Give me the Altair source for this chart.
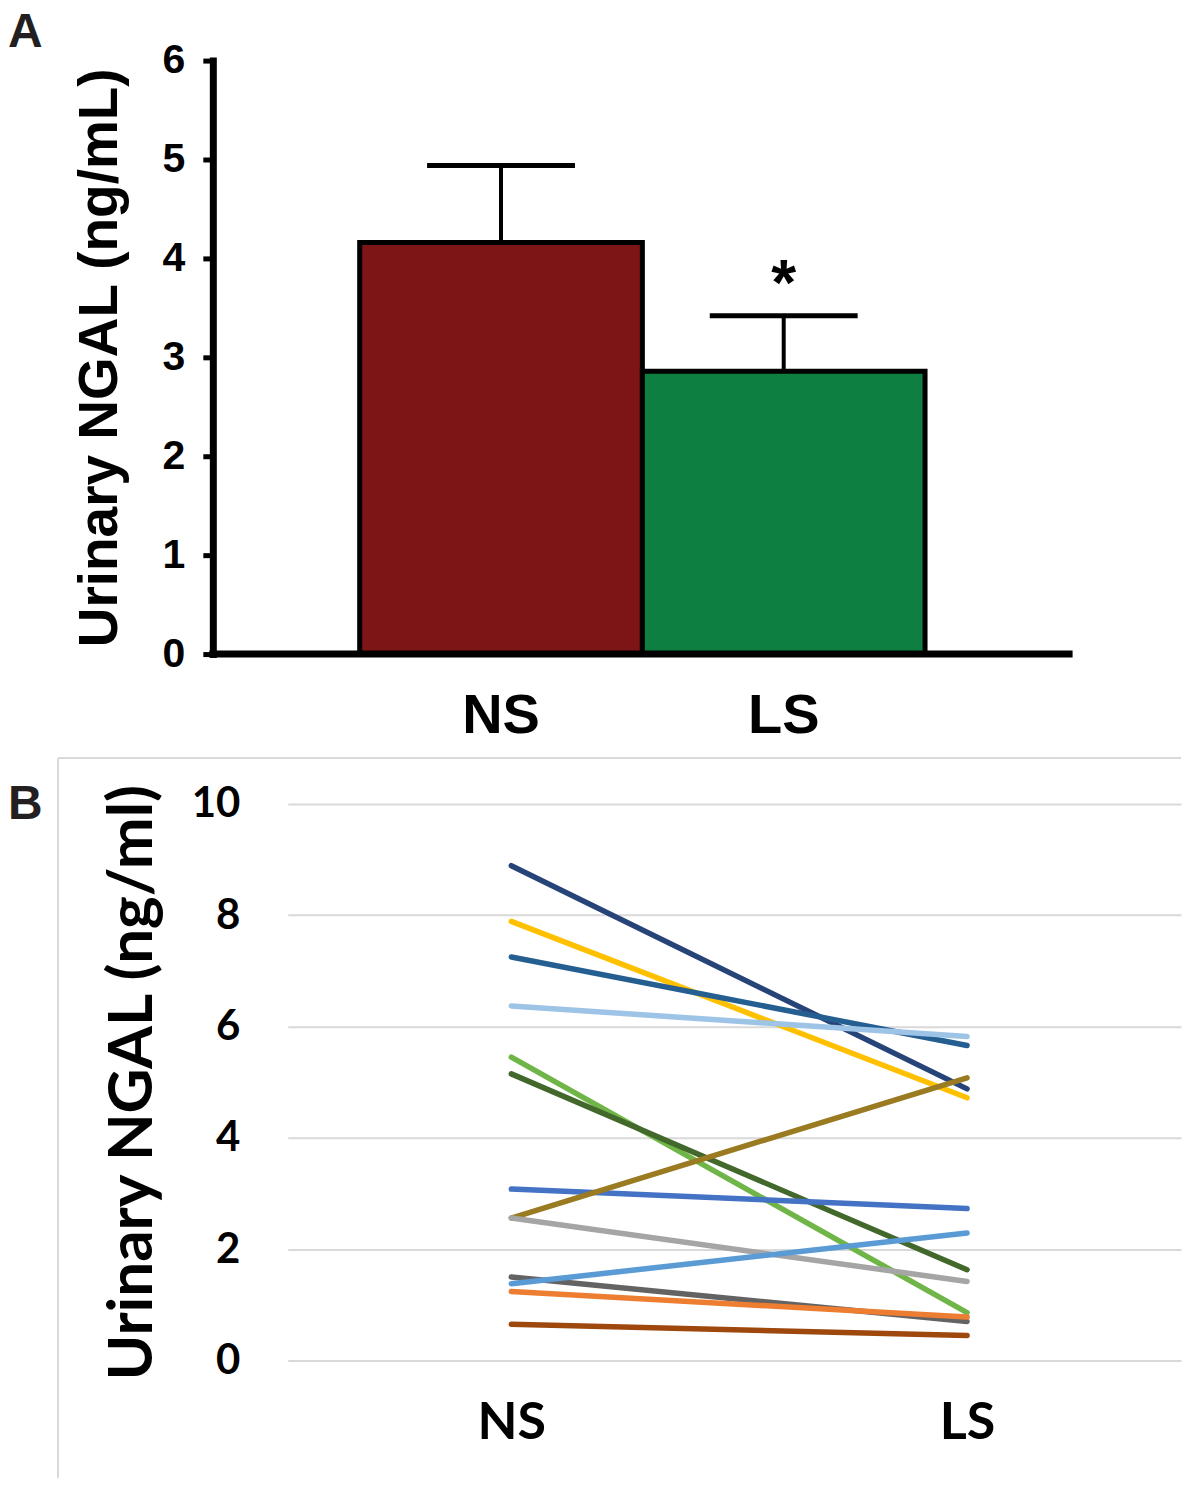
import altair as alt
import pandas as pd

# ---------------- Panel A data ----------------
groups = ["NS", "LS"]
means = [4.16, 2.86]
upper = [4.94, 3.42]
sig = ["", "*"]
bar_colors = ["#7D1416", "#0C7F41"]
a_ticks = [0, 1, 2, 3, 4, 5, 6]

# ---------------- Panel B data ----------------
subjects = ["s1", "s2", "s3", "s4", "s5", "s6", "s7", "s8", "s9", "s10", "s11", "s12", "s13"]
ns_vals = [8.89, 7.89, 7.25, 6.37, 5.45, 5.15, 3.08, 2.56, 2.56, 1.50, 1.38, 1.24, 0.65]
ls_vals = [4.88, 4.72, 5.66, 5.82, 0.86, 1.63, 2.73, 5.08, 1.42, 0.70, 2.29, 0.78, 0.45]
line_colors = ["#264478", "#FFC000", "#255E91", "#9DC3E6", "#70B548", "#43682B", "#4472C4",
               "#9A7B22", "#A5A5A5", "#636363", "#5B9BD5", "#ED7D31", "#9E480E"]
b_ticks = [0, 2, 4, 6, 8, 10]

ARIAL = "Liberation Sans"
CALI = "Lato"

bar_df = pd.DataFrame({"group": groups, "mean": means, "upper": upper, "sig": sig, "color": bar_colors})

rows = []
for s, a, b, c in zip(subjects, ns_vals, ls_vals, line_colors):
    rows.append({"subject": s, "group": "NS", "value": a, "color": c})
    rows.append({"subject": s, "group": "LS", "value": b, "color": c})
line_df = pd.DataFrame(rows)

one = pd.DataFrame({"k": [0]})

# ---------------- Panel A ----------------
WA = 782
xA = alt.X("group:N", sort=groups,
           scale=alt.Scale(paddingInner=0, paddingOuter=0.382, align=0.333),
           axis=alt.Axis(title=None, labelAngle=0, labelFont=ARIAL, labelFontSize=56,
                         labelFontWeight="bold", labelColor="black", ticks=False,
                         domain=False, labelPadding=34, grid=False))
yA = alt.Y("mean:Q", scale=alt.Scale(domain=[0, 6], nice=False),
           axis=alt.Axis(values=a_ticks, format="d", title="Urinary NGAL (ng/mL)", grid=False,
                         offset=75,
                         titleFont=ARIAL, titleFontSize=55, titleFontWeight="bold",
                         titleColor="black", titlePadding=34,
                         labelFont=ARIAL, labelFontSize=41, labelFontWeight="bold",
                         labelColor="black", labelPadding=18,
                         tickSize=10, tickWidth=5, tickColor="black",
                         domainWidth=7, domainColor="black", domainCap="square"))

bars = alt.Chart(bar_df).mark_bar(stroke="black", strokeWidth=5).encode(
    x=xA, y=yA, color=alt.Color("color:N", scale=None))
err = alt.Chart(bar_df).mark_rule(strokeWidth=4, color="black").encode(
    x=alt.X("group:N", sort=groups), y="mean:Q", y2="upper:Q")
caps = alt.Chart(bar_df).mark_tick(size=148, thickness=5, color="black", opacity=1).encode(
    x=alt.X("group:N", sort=groups), y="upper:Q")
star = alt.Chart(bar_df).mark_text(font=ARIAL, fontSize=64, fontWeight="bold",
                                   baseline="alphabetic", dy=-11, color="black").encode(
    x=alt.X("group:N", sort=groups), y="upper:Q", text="sig:N")
xline = alt.Chart(one).mark_rule(color="black", strokeWidth=7, strokeCap="square").encode(
    y=alt.datum(0), x=alt.value(-75), x2=alt.value(WA))
labA = alt.Chart(one).mark_text(text="A", font=ARIAL, fontSize=48, fontWeight="bold",
                                align="left", baseline="top", color="#231f20").encode(
    x=alt.value(-280), y=alt.value(-52))

panelA = alt.layer(bars, err, caps, star, xline, labA).properties(width=WA, height=594)

# ---------------- Panel B ----------------
xB = alt.X("group:N", sort=groups,
           scale=alt.Scale(type="point", padding=0.48, align=0.511),
           axis=alt.Axis(title=None, labelAngle=0, domain=False, ticks=False, grid=False,
                         labelFont=CALI, labelFontSize=52, labelFontWeight="bold",
                         labelColor="black", labelPadding=37))
yB = alt.Y("value:Q", scale=alt.Scale(domain=[0, 10], nice=False),
           axis=alt.Axis(values=b_ticks, grid=True, gridColor="#d9d9d9", gridWidth=2,
                         domain=False, ticks=False, labelPadding=48,
                         labelFont=CALI, labelFontSize=42, labelFontWeight="bold",
                         labelColor="black",
                         title="Urinary NGAL (ng/ml)", titleFont=CALI, titleFontSize=62,
                         titleFontWeight="bold", titleColor="black", titlePadding=27))

lines = alt.Chart(line_df).mark_line(strokeWidth=5.5, strokeCap="round").encode(
    x=xB, y=yB, detail="subject:N", color=alt.Color("color:N", scale=None))
frame_left = alt.Chart(one).mark_rule(color="#d9d9d9", strokeWidth=2).encode(
    x=alt.value(-230), y=alt.value(-46), y2=alt.value(675))
frame_top = alt.Chart(one).mark_rule(color="#d9d9d9", strokeWidth=2).encode(
    x=alt.value(-230), x2=alt.value(894), y=alt.value(-46))
labB = alt.Chart(one).mark_text(text="B", font=ARIAL, fontSize=48, fontWeight="bold",
                                align="left", baseline="top", color="#231f20").encode(
    x=alt.value(-280), y=alt.value(-23))

panelB = alt.layer(frame_left, frame_top, lines, labB).properties(width=894, height=557)

chart = alt.concat(panelA, panelB, columns=1, spacing=14).properties(
    padding=0, background="white"
).configure_view(strokeWidth=0, stroke=None)

chart.save("out.html", embed_options={"renderer": "svg", "actions": False})
